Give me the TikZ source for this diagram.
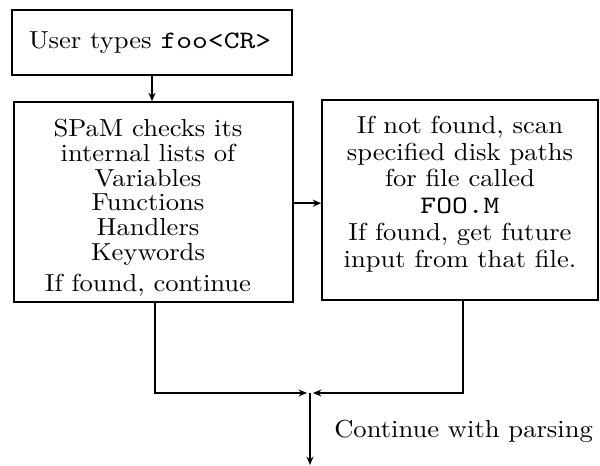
\documentclass[tikz,border=0pt]{standalone}
\usepackage{fontspec}
\setmainfont{lmroman10-regular.otf}[FakeStretch=1.08]
\setmonofont{lmmono10-regular.otf}[FakeStretch=1.2,Scale=1.02]
\usetikzlibrary{arrows.meta,positioning}

\tikzstyle{box} = [draw,line width=1.1pt,inner sep=0pt]
\tikzstyle{words} = [align=center,inner sep=0pt,font=\fontsize{17.5}{17.5}\selectfont]
\tikzstyle{wide words} = [align=center,inner sep=0pt,font=\fontsize{17.5}{19}\selectfont]
\tikzstyle{flow} = [draw,line width=1pt,-{Stealth[length=6pt,width=5pt]}]

\begin{document}
\begin{tikzpicture}[x=0.025cm,y=-0.025cm]
     \useasboundingbox (0,0) rectangle (600,466);
     % First the three boxes
     \node[box,minimum width=7cm,minimum height=1.625cm] (types) at (152,42.5) {};
     \node[box,minimum width=6.975cm,minimum height=5cm] (checks) at (153.5,202) {};
     \node[box,minimum width=6.9cm,minimum height=5cm] (scan) at (460,200) {};

     % Then the texts in them
     \node[words] (typestext) at (150,42.5) {User types \texttt{foo<CR>}};
     \node[words] (checkstext) at (148,208) {SPaM checks its\\ internal lists of\\ Variables\\ Functions\\ Handlers\\ Keywords\\[5pt] If found, continue};
     \node[wide words] (scantext) at (460,194) {If not found, scan\\ specified disk paths\\ for file called\\ \texttt{FOO.M}\\ If found, get future\\ input from that file.};

     % Junction below the boxes
     \coordinate (join) at (310,393);
     \coordinate (joinL) at ([xshift=-0.075cm]join);
     \coordinate (joinR) at ([xshift=0.075cm]join);
     \coordinate (out) at (310,465);

     % Connect the boxes
     \path[flow] (types.south) -- (types.south |- checks.north);
     \path[flow] ([yshift=-0.03cm]checks.east) -- ([yshift=-0.03cm]checks.east -| scan.west);
     \path[flow] ([xshift=0.04cm]checks.south) |- (joinL);
     \path[flow] ([xshift=0.075cm]scan.south) |- (joinR);
     \path[flow] (join) -- (out);

     \node[words,anchor=west] (parsing) at (334,431) {Continue with parsing};
   \end{tikzpicture}
\end{document}
